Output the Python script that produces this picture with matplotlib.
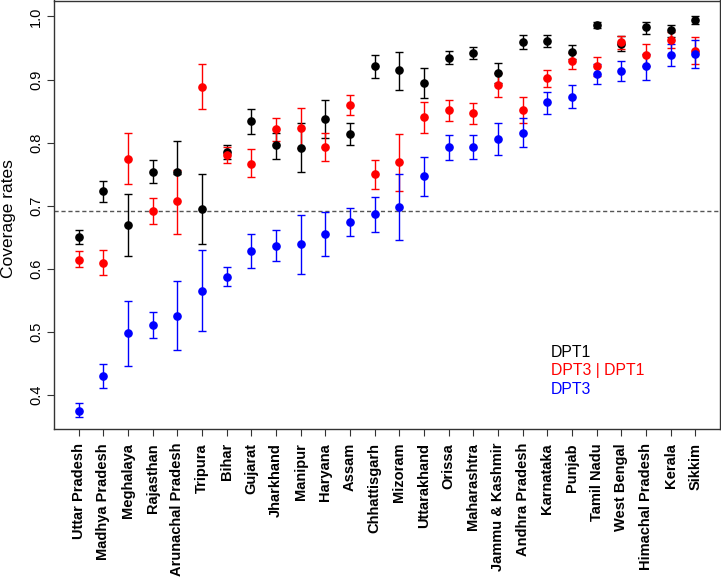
import matplotlib
matplotlib.use("Agg")
import matplotlib.pyplot as plt
import numpy as np

plt.rcParams['font.family'] = ['Liberation Sans', 'DejaVu Sans']

states = ["Uttar Pradesh", "Madhya Pradesh", "Meghalaya", "Rajasthan", "Arunachal Pradesh",
          "Tripura", "Bihar", "Gujarat", "Jharkhand", "Manipur", "Haryana", "Assam",
          "Chhattisgarh", "Mizoram", "Uttarakhand", "Orissa", "Maharashtra", "Jammu & Kashmir",
          "Andhra Pradesh", "Karnataka", "Punjab", "Tamil Nadu", "West Bengal",
          "Himachal Pradesh", "Kerala", "Sikkim"]

dpt1 = [0.651, 0.723, 0.669, 0.754, 0.753, 0.695, 0.786, 0.834, 0.796, 0.792, 0.838, 0.814,
        0.921, 0.915, 0.895, 0.935, 0.942, 0.911, 0.960, 0.961, 0.943, 0.987, 0.957, 0.983,
        0.978, 0.995]
dpt1_lo = [0.640, 0.706, 0.621, 0.736, 0.750, 0.639, 0.775, 0.814, 0.775, 0.753, 0.808, 0.797,
           0.902, 0.884, 0.871, 0.924, 0.932, 0.894, 0.949, 0.952, 0.933, 0.981, 0.945, 0.973,
           0.968, 0.988]
dpt1_hi = [0.662, 0.740, 0.718, 0.772, 0.802, 0.751, 0.797, 0.853, 0.816, 0.832, 0.868, 0.831,
           0.939, 0.944, 0.918, 0.945, 0.952, 0.927, 0.971, 0.970, 0.955, 0.992, 0.969, 0.992,
           0.987, 1.001]

cond = [0.615, 0.610, 0.775, 0.692, 0.707, 0.889, 0.781, 0.767, 0.821, 0.823, 0.793, 0.860,
        0.751, 0.769, 0.840, 0.852, 0.847, 0.892, 0.852, 0.902, 0.930, 0.921, 0.959, 0.939,
        0.963, 0.946]
cond_lo = [0.603, 0.591, 0.734, 0.671, 0.656, 0.854, 0.768, 0.745, 0.803, 0.792, 0.771, 0.844,
           0.727, 0.724, 0.815, 0.835, 0.830, 0.872, 0.831, 0.888, 0.916, 0.906, 0.948, 0.921,
           0.950, 0.924]
cond_hi = [0.628, 0.630, 0.816, 0.713, 0.757, 0.925, 0.794, 0.790, 0.839, 0.855, 0.815, 0.876,
           0.773, 0.814, 0.864, 0.868, 0.863, 0.911, 0.872, 0.915, 0.942, 0.936, 0.969, 0.957,
           0.976, 0.968]

dpt3 = [0.375, 0.431, 0.498, 0.511, 0.526, 0.565, 0.588, 0.629, 0.637, 0.639, 0.656, 0.675,
        0.687, 0.698, 0.747, 0.793, 0.794, 0.806, 0.816, 0.864, 0.873, 0.909, 0.913, 0.921,
        0.939, 0.941]
dpt3_lo = [0.365, 0.412, 0.447, 0.490, 0.472, 0.502, 0.573, 0.602, 0.612, 0.592, 0.620, 0.652,
           0.659, 0.646, 0.716, 0.773, 0.775, 0.781, 0.794, 0.846, 0.855, 0.893, 0.897, 0.900,
           0.921, 0.918]
dpt3_hi = [0.387, 0.450, 0.550, 0.532, 0.581, 0.630, 0.603, 0.656, 0.661, 0.685, 0.691, 0.697,
           0.714, 0.751, 0.778, 0.812, 0.813, 0.832, 0.839, 0.881, 0.892, 0.925, 0.930, 0.941,
           0.957, 0.963]

ref_line = 0.692
yticks = [0.4, 0.5, 0.6, 0.7, 0.8, 0.9, 1.0]
legend_labels = ["DPT1", "DPT3 | DPT1", "DPT3"]

fig = plt.figure(figsize=(7.21, 5.79), dpi=100)
ax = fig.add_axes([54/721, 1-429/579, 666/721, 428.5/579])

x = np.arange(len(states))
series = [(dpt1, dpt1_lo, dpt1_hi, "black"),
          (cond, cond_lo, cond_hi, "#ff0000"),
          (dpt3, dpt3_lo, dpt3_hi, "#0000ff")]
for vals, lo, hi, col in series:
    v = np.array(vals); l = np.array(lo); h = np.array(hi)
    ax.errorbar(x, v, yerr=[v - l, h - v], fmt='o', color=col, ms=5.2,
                elinewidth=1.0, capsize=2.6, capthick=1.0, mec=col, mfc=col)

ax.axhline(ref_line, color="#555555", ls=(0, (3, 2)), lw=1.0, zorder=0)

ax.set_xlim(-1, 26)
ax.set_ylim(0.3465, 1.0253)
ax.set_yticks(yticks)
ax.set_yticklabels([f"{t:.1f}" for t in yticks], rotation=90, va='center', fontsize=10.5)
ax.set_xticks(x)
ax.set_xticklabels(states, rotation=90, fontweight='bold', fontsize=10.5)
ax.tick_params(axis='both', length=5, width=0.8, color='#333333')
ax.tick_params(axis='y', pad=3)
ax.tick_params(axis='x', pad=5)
for s in ax.spines.values():
    s.set_color('#333333')
    s.set_linewidth(1.0)

fig.text(8.5/721, 1-219/579, "Coverage rates", rotation=90, ha='center', va='center', fontsize=12.5)

cols = ["black", "#ff0000", "#0000ff"]
ys = [352.7, 370.7, 389.3]
for lab, c, yy in zip(legend_labels, cols, ys):
    fig.text(551/721, 1-yy/579, lab, color=c, ha='left', va='center', fontsize=11.3)

fig.savefig("out.png", dpi=100)
